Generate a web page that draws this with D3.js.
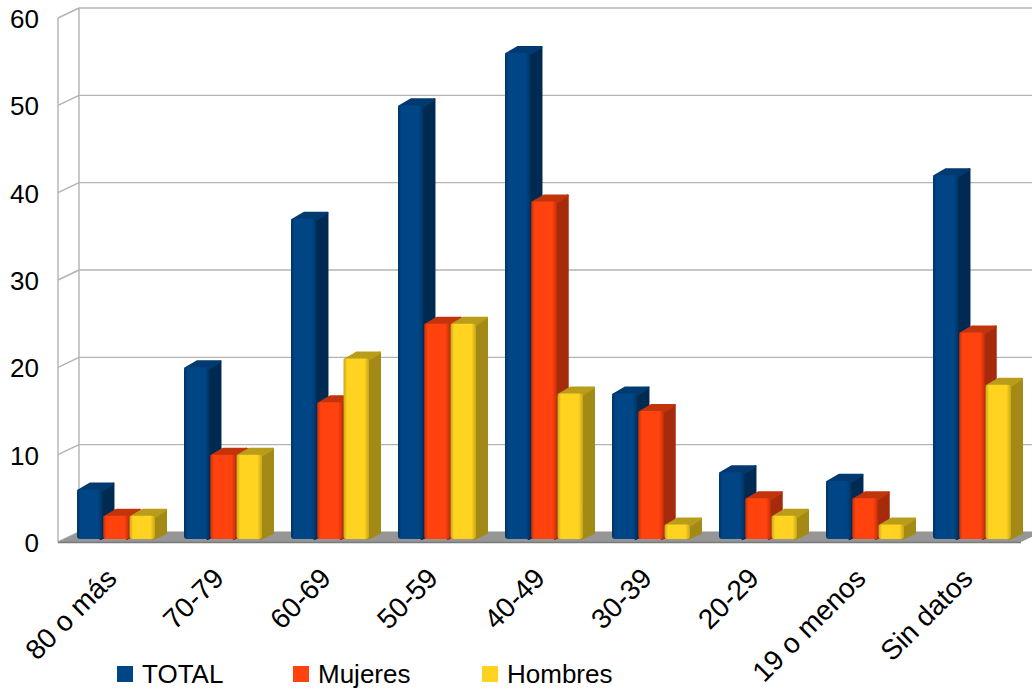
<!DOCTYPE html>
<html>
<head>
<meta charset="utf-8">
<script src="https://cdn.jsdelivr.net/npm/d3@7"></script>
<style>
  html, body { margin: 0; padding: 0; background: #fff; }
  svg { display: block; font-family: "Liberation Sans", Arial, sans-serif; }
</style>
</head>
<body>
<svg id="chart" width="1032" height="691"></svg>
<script>
// ---- data ----
const categories = ["80 o más", "70-79", "60-69", "50-59", "40-49", "30-39", "20-29", "19 o menos", "Sin datos"];
const seriesNames = ["TOTAL", "Mujeres", "Hombres"];
const totalValues   = [6, 20, 37, 50, 56, 17, 8, 7, 42];
const mujeresValues = [3, 10, 16, 25, 39, 15, 5, 5, 24];
const hombresValues = [3, 10, 21, 25, 17, 2, 3, 2, 18];
const yTicks = [0, 10, 20, 30, 40, 50, 60];

const seriesValues = [totalValues, mujeresValues, hombresValues];
const colors = {
  TOTAL:   { front: "#004586", edge: "#00335f", side: "#002a52", top: "#003a70" },
  Mujeres: { front: "#ff420e", edge: "#c9300a", side: "#a52b0c", top: "#c2340c" },
  Hombres: { front: "#ffd320", edge: "#c9a618", side: "#a38a16", top: "#b99d1a" }
};

const svg = d3.select("#chart");

// geometry
const left = 58, right = 1021;
const y = d3.scaleLinear().domain([0, 60]).range([542, 18]);
const DX = 21, DY = -10;     // wall depth
const BDX = 11, BDY = -6;    // bar depth

const x0 = d3.scaleBand().domain(categories).range([left, right]).paddingInner(0).paddingOuter(0);
const step = x0.step();
const x1 = d3.scaleBand().domain(seriesNames).range([19, 19 + 78]).paddingInner(0.03);

// gradients
const defs = svg.append("defs");
seriesNames.forEach(s => {
  const c = colors[s];
  const g = defs.append("linearGradient").attr("id", "g-" + s).attr("x1", "0").attr("x2", "1").attr("y1", "0").attr("y2", "0");
  g.append("stop").attr("offset", "0%").attr("stop-color", c.edge);
  g.append("stop").attr("offset", "14%").attr("stop-color", c.front);
  g.append("stop").attr("offset", "82%").attr("stop-color", c.front);
  g.append("stop").attr("offset", "100%").attr("stop-color", c.edge);
});

// walls
const gridColor = "#b3b3b3";
const walls = svg.append("g");
yTicks.forEach(t => {
  walls.append("line")
    .attr("x1", left + DX).attr("x2", right + DX + 20)
    .attr("y1", y(t) + DY).attr("y2", y(t) + DY)
    .attr("stroke", gridColor).attr("stroke-width", 1.4);
  walls.append("line")
    .attr("x1", left).attr("x2", left + DX)
    .attr("y1", y(t)).attr("y2", y(t) + DY)
    .attr("stroke", gridColor).attr("stroke-width", 1.4);
});
walls.append("line").attr("x1", left).attr("x2", left).attr("y1", y(60)).attr("y2", y(0))
  .attr("stroke", gridColor).attr("stroke-width", 1.4);
walls.append("line").attr("x1", left + DX).attr("x2", left + DX).attr("y1", y(60) + DY).attr("y2", y(0) + DY)
  .attr("stroke", gridColor).attr("stroke-width", 1.4);

// floor
svg.append("polygon")
  .attr("points", [[left, y(0)], [right, y(0)], [right + DX, y(0) + DY], [left + DX, y(0) + DY]].map(p => p.join(",")).join(" "))
  .attr("fill", "#969696");
svg.append("line").attr("x1", left).attr("x2", right).attr("y1", y(0) + 0.5).attr("y2", y(0) + 0.5)
  .attr("stroke", "#7a7a7a").attr("stroke-width", 1.5);

// bars
const bars = svg.append("g");
const yBase = y(0) - 3;
categories.forEach((cat, i) => {
  seriesNames.forEach((s, j) => {
    const v = seriesValues[j][i];
    const c = colors[s];
    const bx = x0(cat) + x1(s);
    const w = x1.bandwidth();
    const top = y(v);
    const g = bars.append("g");
    g.append("path")
      .attr("d", `M${bx + w - 2},${top} L${bx + w + BDX},${top + BDY} L${bx + w + BDX},${yBase + BDY} L${bx + w - 2},${yBase} Z`)
      .attr("fill", c.side).attr("stroke", c.side).attr("stroke-width", 2).attr("stroke-linejoin", "round");
    g.append("path")
      .attr("d", `M${bx + 1},${top + 1} L${bx + BDX + 2},${top + BDY} L${bx + w + BDX},${top + BDY} L${bx + w},${top + 1} Z`)
      .attr("fill", c.top).attr("stroke", c.top).attr("stroke-width", 2).attr("stroke-linejoin", "round");
    g.append("rect")
      .attr("x", bx).attr("y", top)
      .attr("width", w).attr("height", Math.max(0, yBase - top))
      .attr("rx", 3).attr("ry", 3)
      .attr("fill", `url(#g-${s})`);
  });
});

// y axis labels
svg.append("g").selectAll("text").data(yTicks).join("text")
  .attr("x", 39).attr("y", d => y(d) + 1)
  .attr("dy", "0.35em")
  .attr("text-anchor", "end")
  .attr("font-size", 26)
  .attr("fill", "#000")
  .text(d => d);

// x axis labels
svg.append("g").selectAll("text").data(categories).join("text")
  .attr("transform", d => `translate(${x0(d) + step / 2 + 7},${580}) rotate(-45)`)
  .attr("text-anchor", "end")
  .attr("font-size", 28)
  .attr("fill", "#000")
  .text(d => d);

// legend
const legendX = [117, 293, 482];
const legend = svg.append("g");
seriesNames.forEach((s, j) => {
  legend.append("rect").attr("x", legendX[j]).attr("y", 666).attr("width", 16).attr("height", 16)
    .attr("fill", colors[s].front);
  legend.append("text").attr("x", legendX[j] + 25).attr("y", 674).attr("dy", "0.35em")
    .attr("font-size", 26).attr("fill", "#000").text(s);
});
</script>
</body>
</html>
